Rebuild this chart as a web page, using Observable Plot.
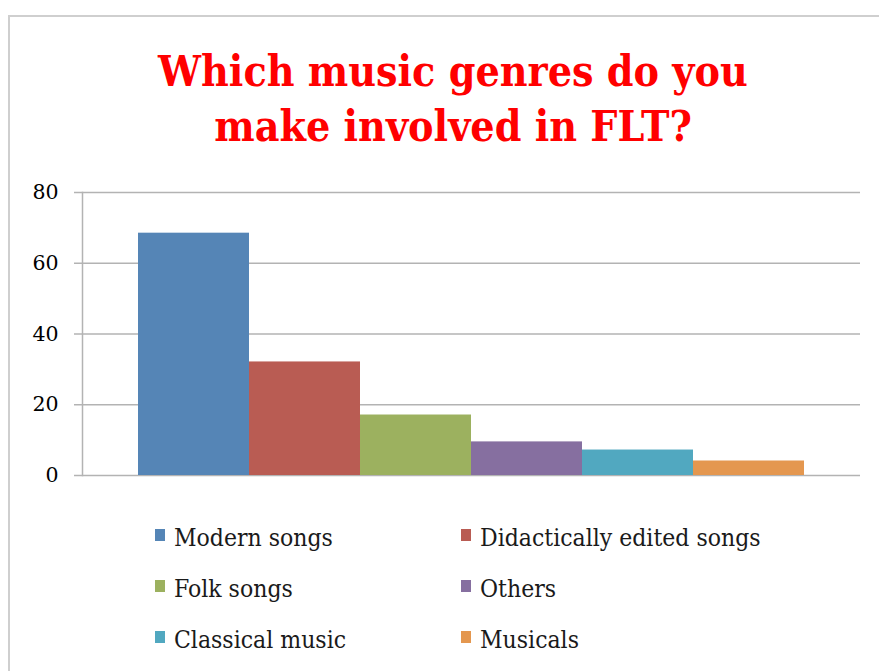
<!DOCTYPE html>
<html>
<head>
<meta charset="utf-8">
<script src="https://cdn.jsdelivr.net/npm/d3@7"></script>
<script src="https://cdn.jsdelivr.net/npm/@observablehq/plot@0.6"></script>
<style>
  html, body { margin: 0; padding: 0; background: #fff; overflow: hidden; width: 879px; height: 671px; }
  #frame { position: absolute; left: 8px; top: 15px; width: 1000px; height: 800px; border-left: 2px solid #cfcfcf; border-top: 2px solid #cfcfcf; box-sizing: border-box; }
  #title { position: absolute; left: 0; top: 44px; width: 906px; text-align: center; color: #ff0000;
           font-family: "DejaVu Serif Condensed", "DejaVu Serif", serif; font-weight: bold; font-size: 42.5px; line-height: 55px; }
  #chart { position: absolute; left: 0; top: 170px; }
  #legend { position: absolute; left: 155px; top: 512px; display: grid; grid-template-columns: 306px 320px; row-gap: 0; }
  .item { display: flex; align-items: center; height: 51px; font-family: "DejaVu Serif Condensed", "DejaVu Serif", serif; font-size: 24.5px; color: #1a1a1a; }
  .sw { width: 10px; height: 12px; margin-right: 9px; margin-top: -6px; }
</style>
</head>
<body>
<div id="frame"></div>
<div id="title">Which music genres do you<br>make involved in FLT?</div>
<div id="chart"></div>
<div id="legend"></div>
<script>
const genres = ["Modern songs", "Didactically edited songs", "Folk songs", "Others", "Classical music", "Musicals"];
const values = [68.5, 32.1, 17.1, 9.5, 7.2, 4.1];
const colors = ["#5585b6", "#b95c53", "#9cb15f", "#866fa0", "#51a8c0", "#e4974f"];
const yTicks = [0, 20, 40, 60, 80];

const data = genres.map((g, i) => ({genre: g, value: values[i]}));

const chart = Plot.plot({
  width: 879,
  height: 320,
  marginLeft: 82,
  marginRight: 19,
  marginTop: 22,
  marginBottom: 15,
  style: {fontFamily: "'DejaVu Serif', serif", fontSize: "20.5px", color: "#000", background: "transparent"},
  x: {type: "band", domain: genres, range: [137, 805], padding: 0, axis: null},
  y: {domain: [0, 80], ticks: yTicks, label: null},
  color: {domain: genres, range: colors},
  marks: [
    Plot.ruleY(yTicks, {stroke: "#b3b3b3", strokeWidth: 1.5, strokeOpacity: 1}),
    Plot.axisY({ticks: yTicks, tickSize: 8, tickPadding: 16, stroke: "#b3b3b3", strokeOpacity: 1, strokeWidth: 1.5, label: null, fill: "#000"}),
    Plot.frame({anchor: "left", stroke: "#b3b3b3", strokeWidth: 1.5}),
    Plot.barY(data, {x: "genre", y: "value", fill: "genre", inset: 0})
  ]
});
document.getElementById("chart").appendChild(chart);

const legend = document.getElementById("legend");
genres.forEach((g, i) => {
  const it = document.createElement("div");
  it.className = "item";
  const sw = document.createElement("span");
  sw.className = "sw";
  sw.style.background = colors[i];
  it.appendChild(sw);
  it.appendChild(document.createTextNode(g));
  legend.appendChild(it);
});
</script>
</body>
</html>
